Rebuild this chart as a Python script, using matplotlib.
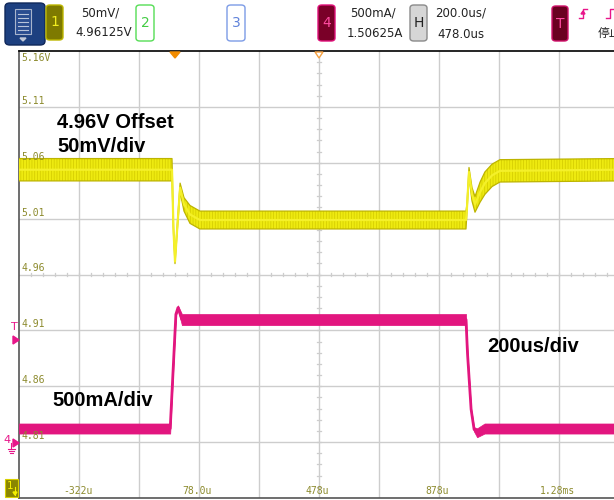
import matplotlib
matplotlib.use('Agg')
import matplotlib.pyplot as plt
from matplotlib.patches import FancyBboxPatch, Rectangle, Polygon

W, H = 614, 500

# ---------------- data read from the screen ----------------
# channel 1 (output voltage, V) vs time (us)
ch1_time_us = [-522, -12, -7, -2, 5, 15, 28, 48, 81, 968, 971, 978, 988, 998, 1015, 1031, 1055, 1081, 1478]
ch1_volts = [5.055, 5.055, 5.001, 4.973, 5.001, 5.039, 5.024, 5.015, 5.010, 5.010, 5.020, 5.053, 5.033, 5.024,
             5.035, 5.043, 5.050, 5.054, 5.055]
ch1_halfband = [0.010, 0.010, 0.003, 0.002, 0.003, 0.004, 0.006, 0.008, 0.008, 0.008, 0.004, 0.004, 0.006, 0.007,
                0.009, 0.010, 0.010, 0.010, 0.010]

# channel 4 (load current, A) vs time (us)
ch4_time_us = [-522, -18, 1, 8, 21, 968, 973, 985, 995, 1005, 1030, 1478]
ch4_amps = [0.128, 0.128, 1.15, 1.21, 1.103, 1.103, 0.80, 0.30, 0.12, 0.090, 0.128, 0.128]
ch4_halfband = [0.045, 0.045, 0.01, 0.02, 0.05, 0.05, 0.01, 0.01, 0.02, 0.04, 0.045, 0.045]

# scope settings
ch1_scale, ch1_offset = 0.05, 4.96125
ch4_scale, ch4_offset = 0.5, 1.50625
time_scale, time_pos = 200.0, 478.0

y_tick_values = [5.16125, 5.11125, 5.06125, 5.01125, 4.96125, 4.91125, 4.86125, 4.81125]
y_tick_labels = ['5.16V', '5.11', '5.06', '5.01', '4.96', '4.91', '4.86', '4.81']
x_tick_values = [-322, 78, 478, 878, 1278]
x_tick_labels = ['-322u', '78.0u', '478u', '878u', '1.28ms']

# ---------------- figure ----------------
fig = plt.figure(figsize=(W / 100, H / 100), dpi=100)
fig.patch.set_facecolor('white')


def fx(px):
    return px / W


def fy(py):
    return 1 - py / H


top_px, bot_px, left_px = 51, 498, 19
ax = fig.add_axes([fx(left_px), fy(bot_px), 600 / W, (bot_px - top_px) / H])
xmin, xmax = time_pos - 5 * time_scale, time_pos + 5 * time_scale
ymin, ymax = ch1_offset - 4 * ch1_scale, ch1_offset + 4 * ch1_scale
ax.set_xlim(xmin, xmax)
ax.set_ylim(ymin, ymax)
ax.set_xticks([])
ax.set_yticks([])
ax.set_facecolor('white')
for s in ['left', 'bottom']:
    ax.spines[s].set_color('#555555')
    ax.spines[s].set_linewidth(1.2)
ax.spines['top'].set_color('black')
ax.spines['top'].set_linewidth(1.2)
ax.spines['right'].set_visible(False)

grid_c = '#CDCDCD'
for k in range(1, 10):
    ax.axvline(xmin + k * time_scale, color=grid_c, lw=1.0, zorder=0)
for k in range(1, 8):
    ax.axhline(ymin + k * ch1_scale, color=grid_c, lw=1.0, zorder=0)
# minor ticks along centre lines
for k in range(1, 50):
    xv = xmin + k * time_scale / 5
    ax.plot([xv, xv], [ch1_offset - 0.0015, ch1_offset + 0.0015], color=grid_c, lw=0.9, zorder=0)
for k in range(1, 40):
    yv = ymin + k * ch1_scale / 5
    ax.plot([time_pos - 8, time_pos + 8], [yv, yv], color=grid_c, lw=0.9, zorder=0)

# channel 1 trace
plt.rcParams['hatch.linewidth'] = 0.5
lo = [v - h for v, h in zip(ch1_volts, ch1_halfband)]
hi = [v + h for v, h in zip(ch1_volts, ch1_halfband)]
ax.fill_between(ch1_time_us, lo, hi, facecolor='#EEEA10', edgecolor='#D2CA00', hatch='||||||',
                linewidth=0, zorder=3)
ax.plot(ch1_time_us, lo, color='#BDB400', lw=0.9, zorder=3)
ax.plot(ch1_time_us, hi, color='#BDB400', lw=0.9, zorder=3)
ax.plot(ch1_time_us, ch1_volts, color='#F4F02A', lw=1.6, zorder=3)

# channel 4 trace on its own scale
ax2 = ax.twinx()
ax2.set_ylim(ch4_offset - 4 * ch4_scale, ch4_offset + 4 * ch4_scale)
ax2.axis('off')
lo4 = [v - h for v, h in zip(ch4_amps, ch4_halfband)]
hi4 = [v + h for v, h in zip(ch4_amps, ch4_halfband)]
ax2.fill_between(ch4_time_us, lo4, hi4, facecolor='#E2167F', edgecolor='#E2167F', lw=0.5, zorder=3)
ax2.plot(ch4_time_us, ch4_amps, color='#E2167F', lw=2.0, zorder=3)

# tick labels (drawn on top of the traces)
lab_c = '#8C8A2C'
for v, t in zip(y_tick_values, y_tick_labels):
    if t.endswith('V'):
        fig.text(xmin + 7, v - 0.002, t, color=lab_c, fontsize=7, family='DejaVu Sans Mono',
                 va='top', ha='left', transform=ax.transData)
    else:
        fig.text(xmin + 7, v + 0.0010, t, color=lab_c, fontsize=7, family='DejaVu Sans Mono',
                 va='bottom', ha='left', transform=ax.transData)
for v, t in zip(x_tick_values, x_tick_labels):
    fig.text(v - 5, ymin + 0.0015, t, color=lab_c, fontsize=7, family='DejaVu Sans Mono',
             va='bottom', ha='center', transform=ax.transData)

# markers on top edge
fig.patches.append(Polygon([[fx(170), fy(52)], [fx(180), fy(52)], [fx(175), fy(58)]], closed=True,
                           color='#F28C00', transform=fig.transFigure, zorder=6))
fig.patches.append(Polygon([[fx(315), fy(52)], [fx(323), fy(52)], [fx(319), fy(58)]], closed=True,
                           facecolor='white', edgecolor='#F5A040', lw=1, transform=fig.transFigure, zorder=6))

# annotations
bold = dict(fontsize=14.5, fontweight='bold', family='Liberation Sans', color='black')
fig.text(fx(57), fy(122), '4.96V Offset', va='center', ha='left', **bold)
fig.text(fx(57), fy(146), '50mV/div', va='center', ha='left', **bold)
fig.text(fx(52), fy(400), '500mA/div', va='center', ha='left', **bold)
fig.text(fx(487), fy(346), '200us/div', va='center', ha='left', **bold)

# left-edge markers
pink = '#E8168A'
fig.text(fx(14), fy(327), 'T', color=pink, fontsize=8, ha='center', va='center', family='DejaVu Sans')
fig.patches.append(Polygon([[fx(13), fy(336)], [fx(13), fy(344)], [fx(19), fy(340)]], closed=True,
                           color=pink, transform=fig.transFigure))
fig.text(fx(7), fy(440), '4', color=pink, fontsize=8, ha='center', va='center', family='DejaVu Sans')
fig.patches.append(Polygon([[fx(13), fy(439)], [fx(13), fy(447)], [fx(19), fy(443)]], closed=True,
                           color=pink, transform=fig.transFigure))
fig.lines.append(plt.Line2D([fx(11), fx(11)], [fy(443), fy(449)], color=pink, lw=0.8,
                            transform=fig.transFigure))
for i, wdt in enumerate([7, 5, 3]):
    fig.lines.append(plt.Line2D([fx(11 - wdt / 2), fx(11 + wdt / 2)], [fy(449 + 2 * i), fy(449 + 2 * i)],
                                color=pink, lw=0.8, transform=fig.transFigure))
fig.patches.append(Rectangle((fx(5), fy(497)), 13 / W, 18 / H, facecolor='#8A8600', edgecolor='#D8D000',
                             lw=0.8, transform=fig.transFigure))
fig.text(fx(10), fy(486), '1', color='#F5F000', fontsize=7.5, ha='center', va='center', family='DejaVu Sans')
fig.lines.append(plt.Line2D([fx(15), fx(15)], [fy(487), fy(495)], color='#F5F000', lw=0.8,
                            transform=fig.transFigure))
fig.patches.append(Polygon([[fx(13), fy(492)], [fx(17), fy(492)], [fx(15), fy(495)]], closed=True,
                           color='#F5F000', transform=fig.transFigure))


# ---------------- header ----------------
def box(x0, y0, x1, y1, fc, ec, txt, tc, fs=10):
    p = FancyBboxPatch((fx(x0), fy(y1)), (x1 - x0) / W, (y1 - y0) / H,
                       boxstyle='round,pad=0,rounding_size=0.006', facecolor=fc, edgecolor=ec,
                       lw=1.0, transform=fig.transFigure)
    fig.patches.append(p)
    fig.text(fx((x0 + x1) / 2), fy((y0 + y1) / 2), txt, color=tc, fontsize=fs, ha='center', va='center',
             family='DejaVu Sans')


# menu icon
fig.patches.append(FancyBboxPatch((fx(5), fy(45)), 40 / W, 42 / H, boxstyle='round,pad=0,rounding_size=0.008',
                                  facecolor='#1D4080', edgecolor='#10285A', lw=1, transform=fig.transFigure))
fig.patches.append(Rectangle((fx(15), fy(34)), 16 / W, 25 / H, facecolor='#2A4D90', edgecolor='#A8B4CC',
                             lw=0.8, transform=fig.transFigure))
for k in range(5):
    yy = 14 + k * 4
    fig.lines.append(plt.Line2D([fx(18), fx(28)], [fy(yy), fy(yy)], color='#B8C4DA', lw=0.8,
                                transform=fig.transFigure))
fig.patches.append(Polygon([[fx(20), fy(38)], [fx(26), fy(38)], [fx(23), fy(41)]], closed=True,
                           color='#C0C8D8', transform=fig.transFigure))

box(46, 5, 63, 40, '#7E7A00', '#BDB700', '1', '#F2EE20')
txt_kw = dict(fontsize=8.5, color='#222222', family='DejaVu Sans', va='center', ha='left')
fig.text(fx(81), fy(13), '50mV/', **txt_kw)
fig.text(fx(75), fy(32), '4.96125V', **txt_kw)
box(136, 5, 154, 41, 'white', '#55DD55', '2', '#44CC44')
box(227, 5, 245, 41, 'white', '#7C9BE6', '3', '#5F82DA')
box(318, 5, 335, 41, '#7A0028', '#E0107A', '4', '#FF4AA0')
fig.text(fx(350), fy(13), '500mA/', **txt_kw)
fig.text(fx(347), fy(33), '1.50625A', **txt_kw)
box(410, 5, 427, 41, '#D6D6D6', '#8A8A8A', 'H', '#222222')
fig.text(fx(435), fy(13), '200.0us/', **txt_kw)
fig.text(fx(437), fy(34), '478.0us', **txt_kw)
box(552, 6, 568, 41, '#6A0020', '#D0106A', 'T', '#FF4AA0')
# rising-edge trigger symbol
fig.lines.append(plt.Line2D([fx(579), fx(583), fx(583), fx(587)], [fy(18), fy(18), fy(9), fy(9)],
                            color=pink, lw=1.0, transform=fig.transFigure))
fig.patches.append(Polygon([[fx(581), fy(14)], [fx(585), fy(14)], [fx(583), fy(11)]], closed=True,
                           color=pink, transform=fig.transFigure))
fig.lines.append(plt.Line2D([fx(606), fx(610), fx(610), fx(614)], [fy(18), fy(18), fy(9), fy(9)],
                            color=pink, lw=1.0, transform=fig.transFigure))
fig.text(fx(598), fy(33), '停止', fontsize=8.5, color='#222222', va='center', ha='left',
         family=['Noto Sans CJK SC', 'DejaVu Sans'])

fig.savefig('out.png', dpi=100)
